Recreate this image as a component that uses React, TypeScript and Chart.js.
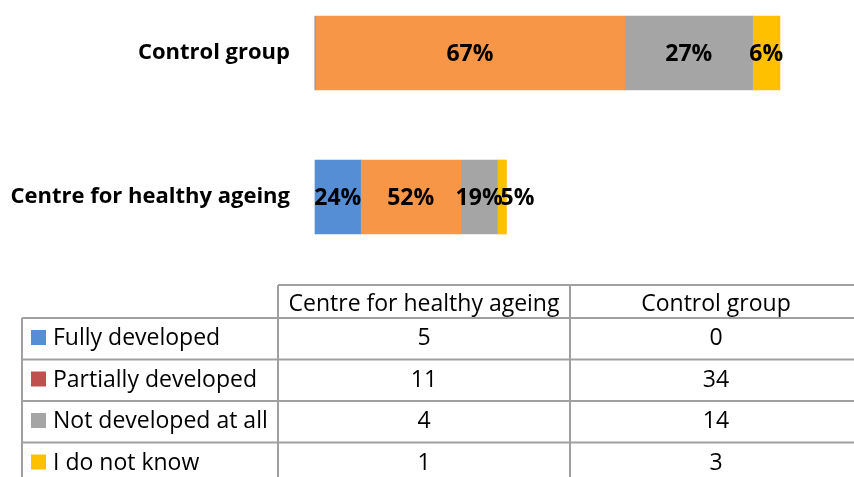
import React, { useEffect, useRef } from "react";
import { Chart, registerables } from "chart.js";

Chart.register(...registerables);

// ---- data ----
const categories = ["Centre for healthy ageing", "Control group"];
const seriesNames = ["Fully developed", "Partially developed", "Not developed at all", "I do not know"];
const fullyDeveloped = [5, 0];
const partiallyDeveloped = [11, 34];
const notDevelopedAtAll = [4, 14];
const doNotKnow = [1, 3];
const barColors = ["#558ED5", "#F79646", "#A5A5A5", "#FFC000"];
const legendKeyColors = ["#558ED5", "#C0504D", "#A5A5A5", "#FFC000"];
const xMax = 60;

// ---- styling ----
const FONT = "'Open Sans', sans-serif";
const AXIS_SIZE = 22;
const LABEL_SIZE = 23;
const TABLE_SIZE = 23;
const CANVAS_W = 870;
const CANVAS_H = 477;

const TABLE = { left: 22, col1: 278, colW: 292, top: 285, headerH: 33, rowH: 41.5, baseline: 27 };

const pctLabelPlugin = {
  id: "pctLabels",
  afterDatasetsDraw(chart: any) {
    const ctx = chart.ctx;
    const n = chart.data.labels.length;
    ctx.save();
    ctx.font = `bold ${LABEL_SIZE}px ${FONT}`;
    ctx.fillStyle = "#000";
    ctx.textAlign = "center";
    ctx.textBaseline = "middle";
    for (let i = 0; i < n; i++) {
      const total = chart.data.datasets.reduce((s: number, d: any) => s + d.data[i], 0);
      let lastRight = -Infinity;
      chart.data.datasets.forEach((ds: any, di: number) => {
        const v = ds.data[i];
        if (!v) return;
        const bar = chart.getDatasetMeta(di).data[i];
        const txt = Math.round((v / total) * 100) + "%";
        const w = ctx.measureText(txt).width;
        let cx = (bar.x + bar.base) / 2;
        if (cx - w / 2 < lastRight - 2) cx = lastRight - 2 + w / 2;
        ctx.fillText(txt, cx, bar.y + 1);
        lastRight = cx + w / 2;
      });
    }
    ctx.restore();
  },
};

const dataTablePlugin = {
  id: "dataTable",
  afterDraw(chart: any) {
    const ctx = chart.ctx;
    const labels: string[] = chart.data.labels;
    const datasets = chart.data.datasets;
    const { left, col1, colW, top, headerH, rowH, baseline } = TABLE;
    const nCols = labels.length;
    const right = col1 + colW * nCols;
    const bodyTop = top + headerH;
    const bottom = bodyTop + rowH * datasets.length;
    ctx.save();
    ctx.strokeStyle = "#a0a0a0";
    ctx.lineWidth = 2;
    ctx.beginPath();
    ctx.moveTo(col1, top);
    ctx.lineTo(right, top);
    for (let r = 0; r <= datasets.length; r++) {
      const y = bodyTop + r * rowH;
      ctx.moveTo(left, y);
      ctx.lineTo(right, y);
    }
    ctx.moveTo(left, bodyTop);
    ctx.lineTo(left, bottom);
    for (let c = 0; c <= nCols; c++) {
      const x = col1 + c * colW;
      ctx.moveTo(x, top);
      ctx.lineTo(x, bottom);
    }
    ctx.stroke();

    ctx.fillStyle = "#000";
    ctx.font = `${TABLE_SIZE}px ${FONT}`;
    ctx.textBaseline = "alphabetic";
    ctx.textAlign = "center";
    labels.forEach((lab, c) => {
      ctx.fillText(lab, col1 + c * colW + colW / 2, top + baseline - 1);
    });
    datasets.forEach((ds: any, r: number) => {
      const yb = bodyTop + r * rowH + baseline;
      ctx.textAlign = "left";
      ctx.fillStyle = legendKeyColors[r];
      ctx.fillRect(left + 9, yb - 15, 15, 15);
      ctx.fillStyle = "#000";
      ctx.fillText(ds.label, left + 31, yb);
      ctx.textAlign = "center";
      ds.data.forEach((v: number, c: number) => {
        ctx.fillText(String(v), col1 + c * colW + colW / 2, yb);
      });
    });
    ctx.restore();
  },
};

export default function App() {
  const ref = useRef<HTMLCanvasElement | null>(null);
  useEffect(() => {
    if (!ref.current) return;
    const seriesValues = [fullyDeveloped, partiallyDeveloped, notDevelopedAtAll, doNotKnow];
    const chart = new Chart(ref.current, {
      type: "bar",
      data: {
        labels: categories,
        datasets: seriesNames.map((name, i) => ({
          label: name,
          data: seriesValues[i],
          backgroundColor: barColors[i],
          borderWidth: 0,
          barThickness: 74,
          clip: false as any,
        })),
      },
      options: {
        indexAxis: "y",
        responsive: false,
        animation: false,
        devicePixelRatio: 1,
        layout: { padding: { top: 53, bottom: CANVAS_H - 197, left: 0, right: CANVAS_W - 862 } },
        plugins: {
          legend: { display: false },
          tooltip: { enabled: false },
        },
        scales: {
          x: { stacked: true, min: 0, max: xMax, display: false },
          y: {
            stacked: true,
            reverse: true,
            offset: false,
            grid: { display: false, drawTicks: false },
            border: { display: false },
            ticks: { color: "#000", padding: 25, font: { family: FONT, size: AXIS_SIZE, weight: "bold" } },
            afterFit: (scale: any) => {
              scale.width = 315;
            },
          },
        },
      },
      plugins: [pctLabelPlugin, dataTablePlugin],
    });
    return () => chart.destroy();
  }, []);
  return (
    <div style={{ position: "fixed", left: 0, top: 0, width: 854, height: 477, overflow: "hidden", background: "#fff" }}>
      <canvas ref={ref} width={CANVAS_W} height={CANVAS_H} style={{ display: "block" }} />
    </div>
  );
}
